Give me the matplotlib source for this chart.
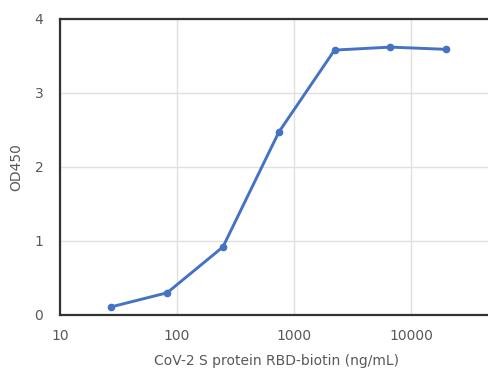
import numpy as np
import matplotlib
matplotlib.use("Agg")
import matplotlib.pyplot as plt
from matplotlib.ticker import FixedLocator, FixedFormatter, NullLocator

# 3-fold dilution series
conc = [27.4, 82.3, 247, 741, 2222, 6667, 20000]
od450 = [0.11, 0.30, 0.92, 2.47, 3.58, 3.62, 3.59]
xticks = [10, 100, 1000, 10000]
xtick_labels = ["10", "100", "1000", "10000"]
yticks = [0, 1, 2, 3, 4]

W, H = 488, 374
fig = plt.figure(figsize=(W / 100, H / 100), dpi=100)
# axes runs off the right edge, as in the cropped reference
left, bottom, top, width = 60, 59, 355, 432
ax = fig.add_axes([left / W, bottom / H, width / W, (top - bottom) / H])

ax.plot(conc, od450, color="#4472c4", lw=2.1, marker="o", ms=4.5, zorder=3)

ax.set_xscale("log")
ax.set_xlim(10, 10 ** (1 + width / 117))
ax.set_ylim(0, 4)
ax.xaxis.set_major_locator(FixedLocator(xticks))
ax.xaxis.set_major_formatter(FixedFormatter(xtick_labels))
ax.xaxis.set_minor_locator(NullLocator())
ax.set_yticks(yticks)

ax.grid(True, color="#e0e0e0", lw=1)
ax.set_axisbelow(True)
for s in ["left", "top", "bottom"]:
    ax.spines[s].set_color("#333333")
    ax.spines[s].set_linewidth(1.6)
ax.spines["right"].set_visible(False)

grey = "#595959"
ax.tick_params(length=0, labelsize=10, labelcolor=grey)
ax.tick_params(axis="x", pad=10)
ax.tick_params(axis="y", pad=12)
ax.set_xlabel("CoV-2 S protein RBD-biotin (ng/mL)", fontsize=10, color=grey, labelpad=8)
ax.set_ylabel("OD450", fontsize=10, color=grey, labelpad=8)

fig.savefig("out.png", dpi=100)
